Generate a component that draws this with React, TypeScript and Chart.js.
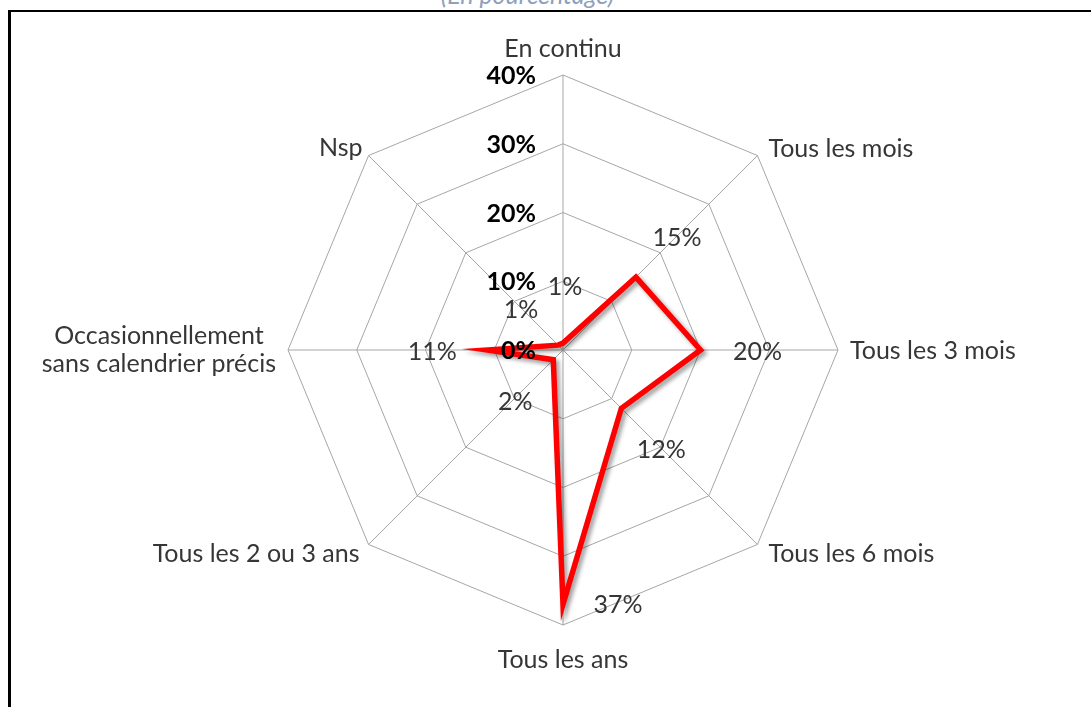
import React, { useEffect, useRef } from "react";
import { Chart, registerables } from "chart.js";

Chart.register(...registerables);

const titleText = "(En pourcentage)";
const categories: (string | string[])[] = [
  "En continu",
  "Tous les mois",
  "Tous les 3 mois",
  "Tous les 6 mois",
  "Tous les ans",
  "Tous les 2 ou 3 ans",
  ["Occasionnellement", "sans calendrier précis"],
  "Nsp",
];
const values = [1, 15, 20, 12, 37, 2, 11, 1];
const valueLabels = ["1%", "15%", "20%", "12%", "37%", "2%", "11%", "1%"];
const tickValues = [0, 10, 20, 30, 40];
const tickLabels = ["0%", "10%", "20%", "30%", "40%"];

const FONT = "Lato, 'Open Sans', sans-serif";
const FONT_SIZE = 25;
const TEXT_COLOR = "#363636";

// styling: where each category label sits relative to its outer vertex
const pointLabelStyle = [
  { align: "center", dx: 0, dy: -26 },
  { align: "left", dx: 11, dy: -7 },
  { align: "left", dx: 12, dy: 1 },
  { align: "left", dx: 11, dy: 9 },
  { align: "center", dx: 0, dy: 35 },
  { align: "right", dx: -9, dy: 9 },
  { align: "right", dx: -12, dy: 0 },
  { align: "right", dx: -6, dy: -8 },
];
// styling: offsets of value labels from their points
const valueLabelOffset = [
  [2, -56],
  [41, -39],
  [57, 2],
  [40, 42],
  [55, 1],
  [-38, 42],
  [-55, 2],
  [-37, -35],
];

const shadowPlugin = {
  id: "lineShadow",
  beforeDatasetsDraw(chart: any) {
    const ctx = chart.ctx;
    ctx.save();
    ctx.shadowColor = "rgba(0,0,0,0.38)";
    ctx.shadowBlur = 4;
    ctx.shadowOffsetX = 3;
    ctx.shadowOffsetY = 3;
  },
  afterDatasetsDraw(chart: any) {
    chart.ctx.restore();
  },
};

const labelsPlugin = {
  id: "customLabels",
  afterDraw(chart: any) {
    const ctx = chart.ctx;
    const scale = chart.scales.r;
    ctx.save();
    ctx.textBaseline = "middle";

    // category labels
    ctx.font = `${FONT_SIZE}px ${FONT}`;
    ctx.fillStyle = TEXT_COLOR;
    const lineH = 28;
    categories.forEach((lab, i) => {
      const p = scale.getPointPosition(i, scale.drawingArea);
      const st = pointLabelStyle[i];
      const lines = Array.isArray(lab) ? lab : [lab];
      const maxW = Math.max(...lines.map((l) => ctx.measureText(l).width));
      let cx = p.x + st.dx;
      if (st.align === "left") cx += maxW / 2;
      if (st.align === "right") cx -= maxW / 2;
      const top = p.y + st.dy - ((lines.length - 1) * lineH) / 2;
      ctx.textAlign = "center";
      lines.forEach((l, k) => ctx.fillText(l, cx, top + k * lineH));
    });

    // tick labels (bold, left of the vertical axis)
    ctx.font = `bold ${FONT_SIZE}px ${FONT}`;
    ctx.fillStyle = "#000000";
    ctx.textAlign = "right";
    tickValues.forEach((v, i) => {
      const d = scale.getDistanceFromCenterForValue(v);
      ctx.fillText(tickLabels[i], scale.xCenter - 27, scale.yCenter - d + 1);
    });

    // value labels
    ctx.font = `${FONT_SIZE}px ${FONT}`;
    ctx.fillStyle = TEXT_COLOR;
    ctx.textAlign = "center";
    const meta = chart.getDatasetMeta(0);
    meta.data.forEach((pt: any, i: number) => {
      const o = valueLabelOffset[i];
      ctx.fillText(valueLabels[i], pt.x + o[0], pt.y + o[1]);
    });
    ctx.restore();
  },
};

export default function App() {
  const ref = useRef<HTMLCanvasElement | null>(null);

  useEffect(() => {
    if (!ref.current) return;
    const chart = new Chart(ref.current, {
      type: "radar",
      data: {
        labels: categories as any,
        datasets: [
          {
            data: values,
            borderColor: "#ff0000",
            borderWidth: 5.5,
            fill: false,
            pointRadius: 0,
            pointHoverRadius: 0,
            tension: 0,
            borderJoinStyle: "miter",
          } as any,
        ],
      },
      options: {
        responsive: false,
        animation: false,
        devicePixelRatio: 1,
        layout: { padding: { left: 288, right: 253, top: 75, bottom: 82 } },
        plugins: { legend: { display: false }, tooltip: { enabled: false } },
        scales: {
          r: {
            min: 0,
            max: 40,
            ticks: { display: false, stepSize: 10 },
            grid: { color: "#a6a6a6", lineWidth: 1, circular: false },
            angleLines: { color: "#a6a6a6", lineWidth: 1 },
            pointLabels: { display: false },
          },
        },
      },
      plugins: [shadowPlugin, labelsPlugin],
    });
    return () => chart.destroy();
  }, []);

  return (
    <div
      style={{
        position: "fixed",
        left: 0,
        top: 0,
        width: 1091,
        height: 707,
        overflow: "hidden",
        background: "#ffffff",
      }}
    >
      <div
        style={{
          position: "absolute",
          left: 0,
          width: 1091,
          top: -20,
          textAlign: "center",
          paddingRight: 36,
          boxSizing: "border-box",
          fontFamily: FONT,
          fontStyle: "italic",
          fontSize: 25,
          lineHeight: "28px",
          color: "#8ea0bc",
        }}
      >
        {titleText}
      </div>
      <div
        style={{
          position: "absolute",
          left: 8,
          top: 10,
          width: 2000,
          height: 2000,
          borderLeft: "3px solid #000",
          borderTop: "2px solid #000",
        }}
      />
      <canvas
        ref={ref}
        width={1091}
        height={707}
        style={{ position: "absolute", left: 0, top: 0, width: 1091, height: 707 }}
      />
    </div>
  );
}
